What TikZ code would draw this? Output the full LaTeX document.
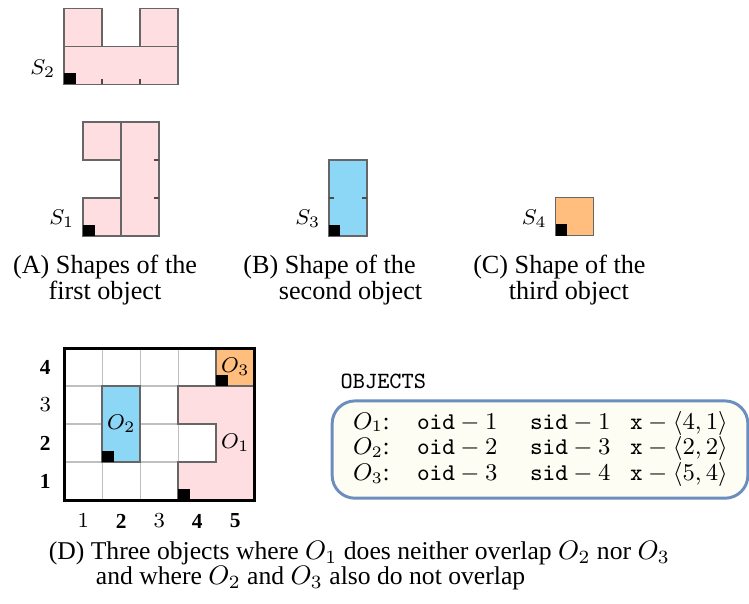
\documentclass[tikz,border=0pt]{standalone}
\usepackage{fontspec}
\setmainfont{Liberation Serif}
\usepackage{amsmath}
\usepackage{amssymb}
\usepackage{xcolor}
\usetikzlibrary{calc}

\definecolor{shpink}{RGB}{255,222,226}
\definecolor{shblue}{RGB}{140,214,246}
\definecolor{shorange}{RGB}{255,190,125}
\definecolor{boxfill}{RGB}{253,253,243}
\definecolor{boxline}{RGB}{108,142,191}

\begin{document}
\begin{tikzpicture}[
      x=0.5cm, y=0.5cm,
      cell/.style={draw=black!60, line width=0.6pt},
      tck/.style={draw=black!70, line width=0.6pt},
      grd/.style={draw=black!25, line width=0.5pt},
      orig/.style={fill=black},
      slbl/.style={anchor=east, inner sep=0pt, font=\fontsize{8}{9}\selectfont},
      olbl/.style={inner sep=0pt, font=\fontsize{8.5}{9}\selectfont},
      axlbl/.style={inner sep=0pt, font=\fontsize{8}{9}\selectfont},
      capt/.style={anchor=north west, align=left, inner sep=0pt,
                   font=\fontsize{9.8}{9.4}\selectfont},
      objbox/.style={draw=boxline, fill=boxfill, line width=1.1pt,
                     rounded corners=0.3cm, text width=4.92cm, align=left,
                     inner xsep=0.275cm, minimum height=1.28cm,
                     font=\fontsize{9}{9.4}\selectfont}
    ]
    \useasboundingbox (0,0) rectangle (19.71,15.87);

    % first object: two shapes
    \begin{scope}[shift={(1.69,13.65)}]
      \filldraw[cell, fill=shpink] (0,0) rectangle (3,1);
      \filldraw[cell, fill=shpink] (0,1) rectangle (1,2);
      \filldraw[cell, fill=shpink] (2,1) rectangle (3,2);
      \draw[tck] (1,0) -- (1,0.13) (2,0) -- (2,0.13);
      \fill[orig] (0,0) rectangle (0.3,0.3);
      \node[slbl] (s2) at (-0.22,0.4) {$S_2$};
    \end{scope}
    \begin{scope}[shift={(2.19,9.66)}]
      \filldraw[cell, fill=shpink] (0,0) rectangle (1,1);
      \filldraw[cell, fill=shpink] (0,2) rectangle (1,3);
      \filldraw[cell, fill=shpink] (1,0) rectangle (2,3);
      \draw[tck] (2,1) -- (1.87,1) (2,2) -- (1.87,2);
      \fill[orig] (0,0) rectangle (0.3,0.3);
      \node[slbl] (s1) at (-0.22,0.45) {$S_1$};
    \end{scope}

    % second object
    \begin{scope}[shift={(8.66,9.66)}]
      \filldraw[cell, fill=shblue] (0,0) rectangle (1,2);
      \draw[tck] (0,1) -- (0.13,1) (1,1) -- (0.87,1);
      \fill[orig] (0,0) rectangle (0.3,0.3);
      \node[slbl] (s3) at (-0.22,0.45) {$S_3$};
    \end{scope}

    % third object
    \begin{scope}[shift={(14.62,9.67)}]
      \filldraw[cell, fill=shorange] (0,0) rectangle (1,1);
      \fill[orig] (0,0) rectangle (0.3,0.3);
      \node[slbl] (s4) at (-0.22,0.45) {$S_4$};
    \end{scope}

    \node[capt] (capA) at (0.33,9.16)
      {(A) Shapes of the\\\hspace*{0.468cm}first object};
    \node[capt] (capB) at (6.39,9.16)
      {(B) Shape of the\\\hspace*{0.468cm}second object};
    \node[capt] (capC) at (12.44,9.16)
      {(C) Shape of the\\\hspace*{0.468cm}third object};

    % placement of the three objects
    \begin{scope}[shift={(1.69,2.71)}]
      \draw[grd, step=1] (0,0) grid (5,4);
      \filldraw[cell, fill=shpink] (3,0) -- (5,0) -- (5,3) -- (3,3) -- (3,2)
        -- (4,2) -- (4,1) -- (3,1) -- cycle;
      \filldraw[cell, fill=shblue] (1,1) rectangle (2,3);
      \filldraw[cell, fill=shorange] (4,3) rectangle (5,4);
      \fill[orig] (3,0) rectangle (3.3,0.3);
      \fill[orig] (1,1) rectangle (1.3,1.3);
      \fill[orig] (4,3) rectangle (4.3,3.3);
      \draw[line width=1.1pt] (0,0) rectangle (5,4);
      \node[olbl] (o1) at (4.5,1.5) {$O_1$};
      \node[olbl] (o2) at (1.5,2.0) {$O_2$};
      \node[olbl] (o3) at (4.5,3.5) {$O_3$};
      \foreach \r/\t in {1/\mathbf{1},2/\mathbf{2},3/3,4/\mathbf{4}}
        \node[axlbl] (row\r) at (-0.5,\r-0.5) {$\t$};
      \foreach \c/\t in {1/1,2/\mathbf{2},3/3,4/\mathbf{4},5/\mathbf{5}}
        \node[axlbl] (col\c) at (\c-0.5,-0.55) {$\t$};
    \end{scope}

    \node[anchor=west, inner sep=0pt, font=\fontsize{8.7}{9}\selectfont\ttfamily]
      (objttl) at (8.95,5.84) {OBJECTS};
    \node[objbox] (objs) at (14.21,4.04) {%
      \begin{tabular}{@{}p{0.842cm}@{}p{1.487cm}@{}p{1.316cm}@{}l@{}}
        $O_1$: & $\mathtt{oid}-1$ & $\mathtt{sid}-1$ & $\mathtt{x}-\langle 4,1\rangle$\\
        $O_2$: & $\mathtt{oid}-2$ & $\mathtt{sid}-3$ & $\mathtt{x}-\langle 2,2\rangle$\\
        $O_3$: & $\mathtt{oid}-3$ & $\mathtt{sid}-4$ & $\mathtt{x}-\langle 5,4\rangle$
      \end{tabular}};

    \node[capt, font=\fontsize{9.6}{9.4}\selectfont] (capD) at (1.27,1.65)
      {(D) Three objects where $O_1$ does neither overlap $O_2$ nor $O_3$\\
       \hspace*{0.62cm}and where $O_2$ and $O_3$ also do not overlap};
  \end{tikzpicture}
\end{document}
